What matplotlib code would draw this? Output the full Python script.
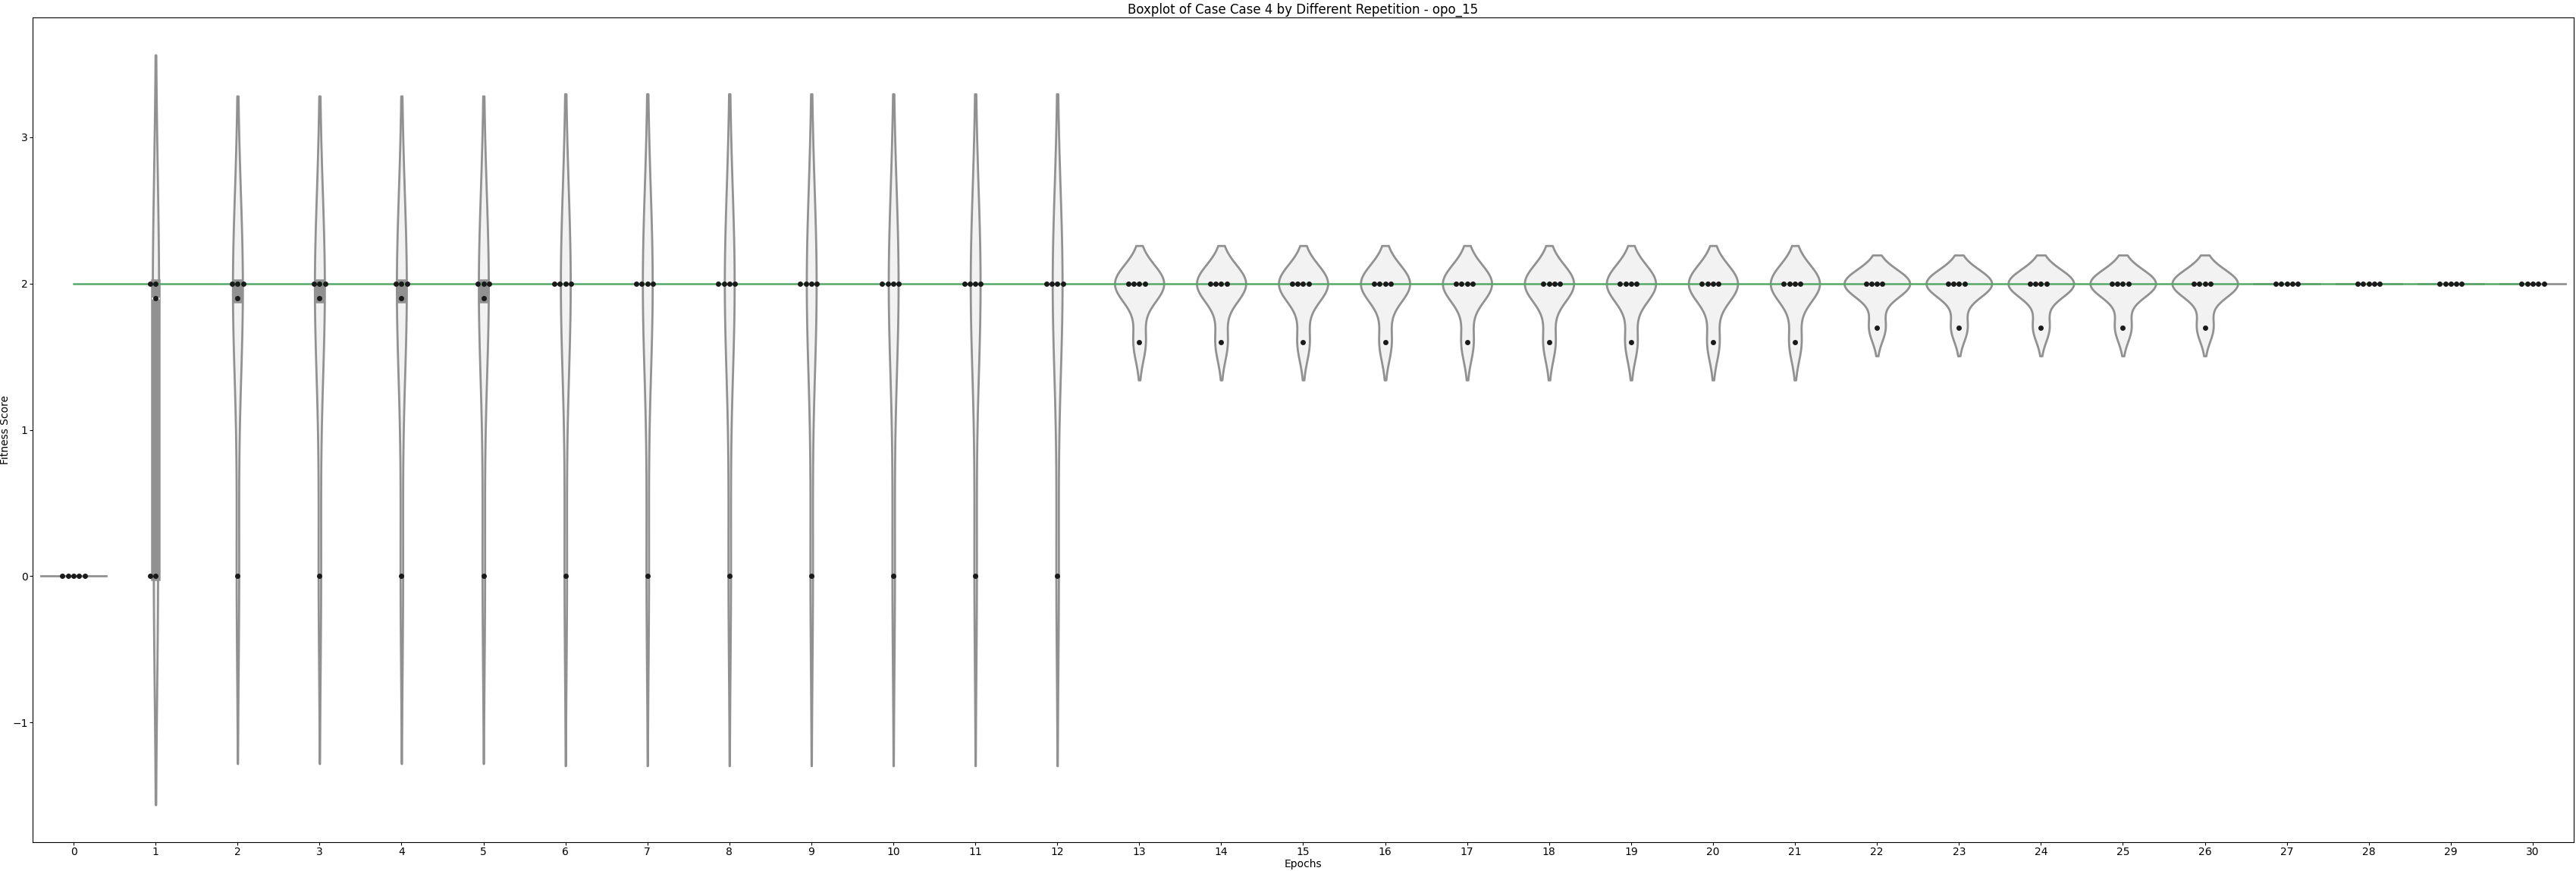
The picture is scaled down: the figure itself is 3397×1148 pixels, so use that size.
import numpy as np
import pandas as pd
import matplotlib as mpl
mpl.use('Agg')
import matplotlib.pyplot as plt
import seaborn as sns

# fitness per epoch (0..30) for each of the 5 repetitions
epochs = list(range(31))
rep1 = [0, 2, 2, 2, 2, 2, 2, 2, 2, 2, 2, 2, 2, 2, 2, 2, 2, 2, 2, 2, 2, 2, 2, 2, 2, 2, 2, 2, 2, 2, 2]
rep2 = [0, 2, 2, 2, 2, 2, 2, 2, 2, 2, 2, 2, 2, 2, 2, 2, 2, 2, 2, 2, 2, 2, 2, 2, 2, 2, 2, 2, 2, 2, 2]
rep3 = [0, 1.9, 2, 2, 2, 2, 2, 2, 2, 2, 2, 2, 2, 2, 2, 2, 2, 2, 2, 2, 2, 2, 2, 2, 2, 2, 2, 2, 2, 2, 2]
rep4 = [0, 0, 1.9, 1.9, 1.9, 1.9, 2, 2, 2, 2, 2, 2, 2, 2, 2, 2, 2, 2, 2, 2, 2, 2, 2, 2, 2, 2, 2, 2, 2, 2, 2]
rep5 = [0, 0, 0, 0, 0, 0, 0, 0, 0, 0, 0, 0, 0, 1.6, 1.6, 1.6, 1.6, 1.6, 1.6, 1.6, 1.6, 1.6,
        1.7, 1.7, 1.7, 1.7, 1.7, 2, 2, 2, 2]
target = 2

rows = []
for rep in [rep1, rep2, rep3, rep4, rep5]:
    for e, v in zip(epochs, rep):
        rows.append((e, v))
df = pd.DataFrame(rows, columns=['Epochs', 'Fitness Score'])

fig = plt.figure(figsize=(33.98, 11.48), dpi=100)
ax = fig.add_subplot(111)
fig.subplots_adjust(left=43/3398, right=3394/3398, top=1-23/1148, bottom=1-1110/1148)

sns.violinplot(data=df, x='Epochs', y='Fitness Score', order=epochs,
               color='#f2f2f2', linecolor='#919191', linewidth=2, inner='box', ax=ax)
ax.plot(epochs, [target]*len(epochs), color='#55a868', linewidth=1.8, zorder=3)
sns.swarmplot(data=df, x='Epochs', y='Fitness Score', order=epochs,
              color='#1a1a1a', size=5, ax=ax, zorder=4)

ax.set_xlim(-0.5, 30.5)
ax.tick_params(pad=1.5, length=3)
ax.set_title('Boxplot of Case Case 4 by Different Repetition - opo_15', pad=4)
ax.set_xlabel('Epochs', labelpad=1.5)
ax.set_ylabel('Fitness Score', labelpad=1.5)

fig.savefig('out.png', dpi=100)
